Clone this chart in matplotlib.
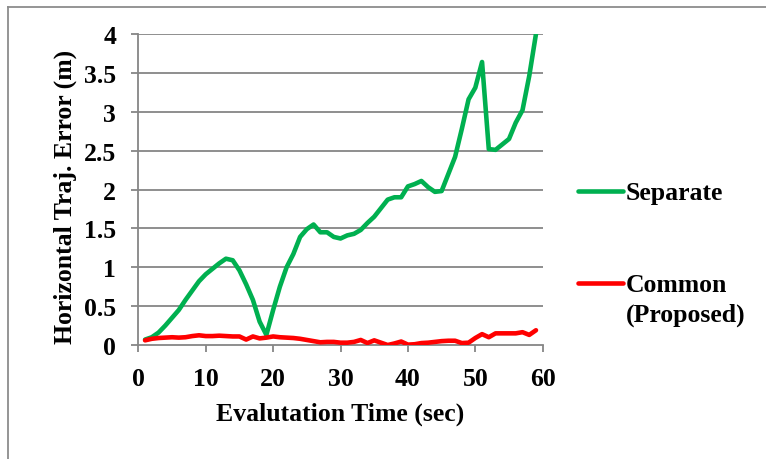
import matplotlib.pyplot as plt
from matplotlib.lines import Line2D
import numpy as np

# Evaluation time (sec) and horizontal trajectory error (m) per method
time_sec = list(range(1, 60))
separate_err = [
    0.07, 0.10, 0.16, 0.25, 0.35, 0.45, 0.58, 0.70, 0.82, 0.91,
    0.98, 1.05, 1.11, 1.09, 0.96, 0.78, 0.58, 0.30, 0.13, 0.45,
    0.75, 1.00, 1.17, 1.39, 1.49, 1.55, 1.45, 1.45, 1.39, 1.37,
    1.41, 1.43, 1.48, 1.57, 1.65, 1.76, 1.87, 1.90, 1.90, 2.04,
    2.07, 2.11, 2.03, 1.97, 1.98, 2.20, 2.42, 2.78, 3.16, 3.31,
    3.64, 2.52, 2.51, 2.58, 2.65, 2.86, 3.02, 3.46, 4.00,
]
common_err = [
    0.06, 0.08, 0.09, 0.095, 0.10, 0.095, 0.10, 0.115, 0.125, 0.115,
    0.115, 0.12, 0.115, 0.11, 0.11, 0.07, 0.11, 0.085, 0.095, 0.11,
    0.10, 0.095, 0.09, 0.08, 0.065, 0.05, 0.035, 0.04, 0.04, 0.03,
    0.03, 0.04, 0.065, 0.025, 0.06, 0.03, 0.0, 0.02, 0.045, 0.005,
    0.01, 0.025, 0.03, 0.04, 0.05, 0.055, 0.055, 0.025, 0.03, 0.09,
    0.14, 0.10, 0.15, 0.15, 0.15, 0.15, 0.165, 0.13, 0.19,
]
series_names = ['Separate', 'Common\n(Proposed)']
series_colors = ['#00B050', '#FF0000']

x_ticks = [0, 10, 20, 30, 40, 50, 60]
y_ticks = [0, 0.5, 1, 1.5, 2, 2.5, 3, 3.5, 4]
y_tick_labels = ['0', '0.5', '1', '1.5', '2', '2.5', '3', '3.5', '4']

plt.rcParams['font.family'] = ['Liberation Serif', 'DejaVu Serif']
plt.rcParams['font.weight'] = 'bold'

fs = 18.5
fig = plt.figure(figsize=(7.66, 4.6), dpi=100)
ax = fig.add_axes([0.1806, 0.2478, 0.5279, 0.6761])

grid_col = '#868686'
for y in y_ticks[1:]:
    ax.axhline(y, color=grid_col, linewidth=1.3, zorder=1)

for vals, col in zip([separate_err, common_err], series_colors):
    ax.plot(time_sec, vals, color=col, linewidth=3.3, solid_joinstyle='round',
            solid_capstyle='round', zorder=3)

ax.set_xlim(0, 60)
ax.set_ylim(0, 4)
ax.set_xticks(x_ticks)
ax.set_xticklabels([str(t) for t in x_ticks])
ax.set_yticks(y_ticks)
ax.set_yticklabels(y_tick_labels)
ax.tick_params(axis='both', direction='out', length=5, width=1.3, color=grid_col,
               labelsize=fs)
ax.tick_params(axis='x', pad=11)
ax.tick_params(axis='y', pad=11)

for side in ['top', 'right']:
    ax.spines[side].set_visible(False)
for side in ['left', 'bottom']:
    ax.spines[side].set_color(grid_col)
    ax.spines[side].set_linewidth(1.3)

ax.set_xlabel('Evalutation Time (sec)', fontsize=fs, fontweight='bold', labelpad=8)
ax.set_ylabel('Horizontal Traj. Error (m)', fontsize=fs, fontweight='bold',
              labelpad=5, y=0.48)

# legend keys drawn in figure pixels to keep the first line aligned with the key
W, H = 766, 460
key_rows = [192, 284]
for name, col, yk in zip(series_names, series_colors, key_rows):
    fig.add_artist(Line2D([578 / W, 623 / W], [1 - yk / H, 1 - yk / H],
                          color=col, linewidth=3.3, solid_capstyle='round'))
    fig.text(626 / W, 1 - (yk - 10) / H, name, fontsize=fs, fontweight='bold',
             ha='left', va='top', linespacing=1.35)

# outer frame
fig.add_artist(Line2D([8 / W, 8 / W], [0, 1 - 8 / H], color='#8c8c8c', linewidth=1.3))
fig.add_artist(Line2D([8 / W, 1], [1 - 8 / H, 1 - 8 / H], color='#8c8c8c', linewidth=1.3))

fig.savefig('out.png', dpi=100)
